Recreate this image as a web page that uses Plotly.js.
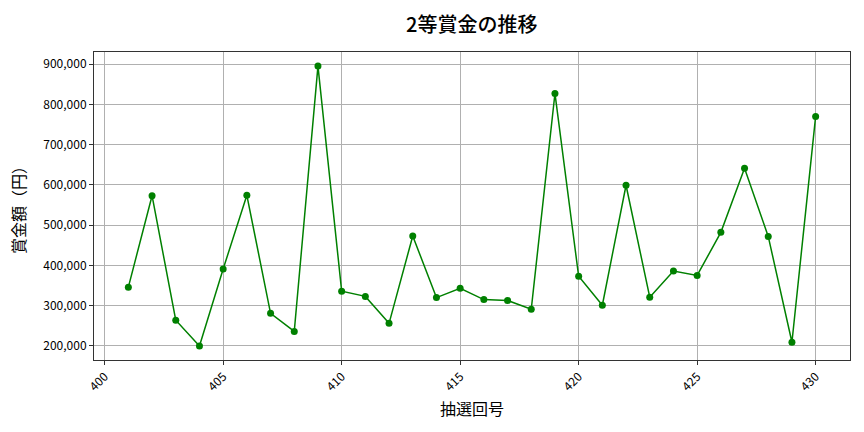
<!DOCTYPE html>
<html>
<head>
<meta charset="utf-8">
<script src="https://cdn.plot.ly/plotly-3.0.1.min.js"></script>
<style>
body{margin:0;background:#fff}
#plot{width:864px;height:432px}
</style>
</head>
<body>
<div id="plot"></div>
<script>
var draws = [401,402,403,404,405,406,407,408,409,410,411,412,413,414,415,
             416,417,418,419,420,421,422,423,424,425,426,427,428,429,430]
var prizes = [346000,573000,264000,200000,391000,574000,281000,236000,895000,336000,
              323000,256000,473000,320000,343000,315000,313000,291000,827000,373000,
              301000,599000,321000,386000,375000,482000,641000,472000,209000,770000]
var xticks = [400,405,410,415,420,425,430]
var yticks = [200000,300000,400000,500000,600000,700000,800000,900000]

var font = "Noto Sans CJK JP, Noto Sans, sans-serif"

var trace = {
  x: draws,
  y: prizes,
  mode: "lines+markers",
  line: {color: "green", width: 1.5},
  marker: {color: "green", size: 7},
  hoverinfo: "x+y"
}

var layout = {
  width: 864, height: 432,
  margin: {l: 94, r: 14, t: 52, b: 72},
  paper_bgcolor: "white",
  plot_bgcolor: "white",
  font: {family: font, color: "#000", size: 12},
  title: {text: "2等賞金の推移", x: 0.546, xanchor: "center", yref: "container", y: 0.942, yanchor: "middle",
          font: {size: 20, family: font, weight: 500}},
  showlegend: false,
  xaxis: {
    range: [399.55, 431.45],
    tickvals: xticks,
    tickangle: -45,
    ticks: "outside", ticklen: 4, tickcolor: "#333",
    showgrid: true, gridcolor: "#b0b0b0", gridwidth: 1,
    zeroline: false,
    showline: true, linecolor: "#333", linewidth: 1, mirror: true,
    title: {text: "抽選回号", font: {size: 16, family: font}, standoff: 10}
  },
  yaxis: {
    range: [165000, 930000],
    tickvals: yticks,
    tickformat: ",",
    ticks: "outside", ticklen: 4, tickcolor: "#333",
    showgrid: true, gridcolor: "#b0b0b0", gridwidth: 1,
    zeroline: false,
    showline: true, linecolor: "#333", linewidth: 1, mirror: true,
    title: {text: "賞金額（円）", font: {size: 16, family: font}, standoff: 13}
  }
}

Plotly.newPlot("plot", [trace], layout, {displayModeBar: false, staticPlot: true})
</script>
</body>
</html>
